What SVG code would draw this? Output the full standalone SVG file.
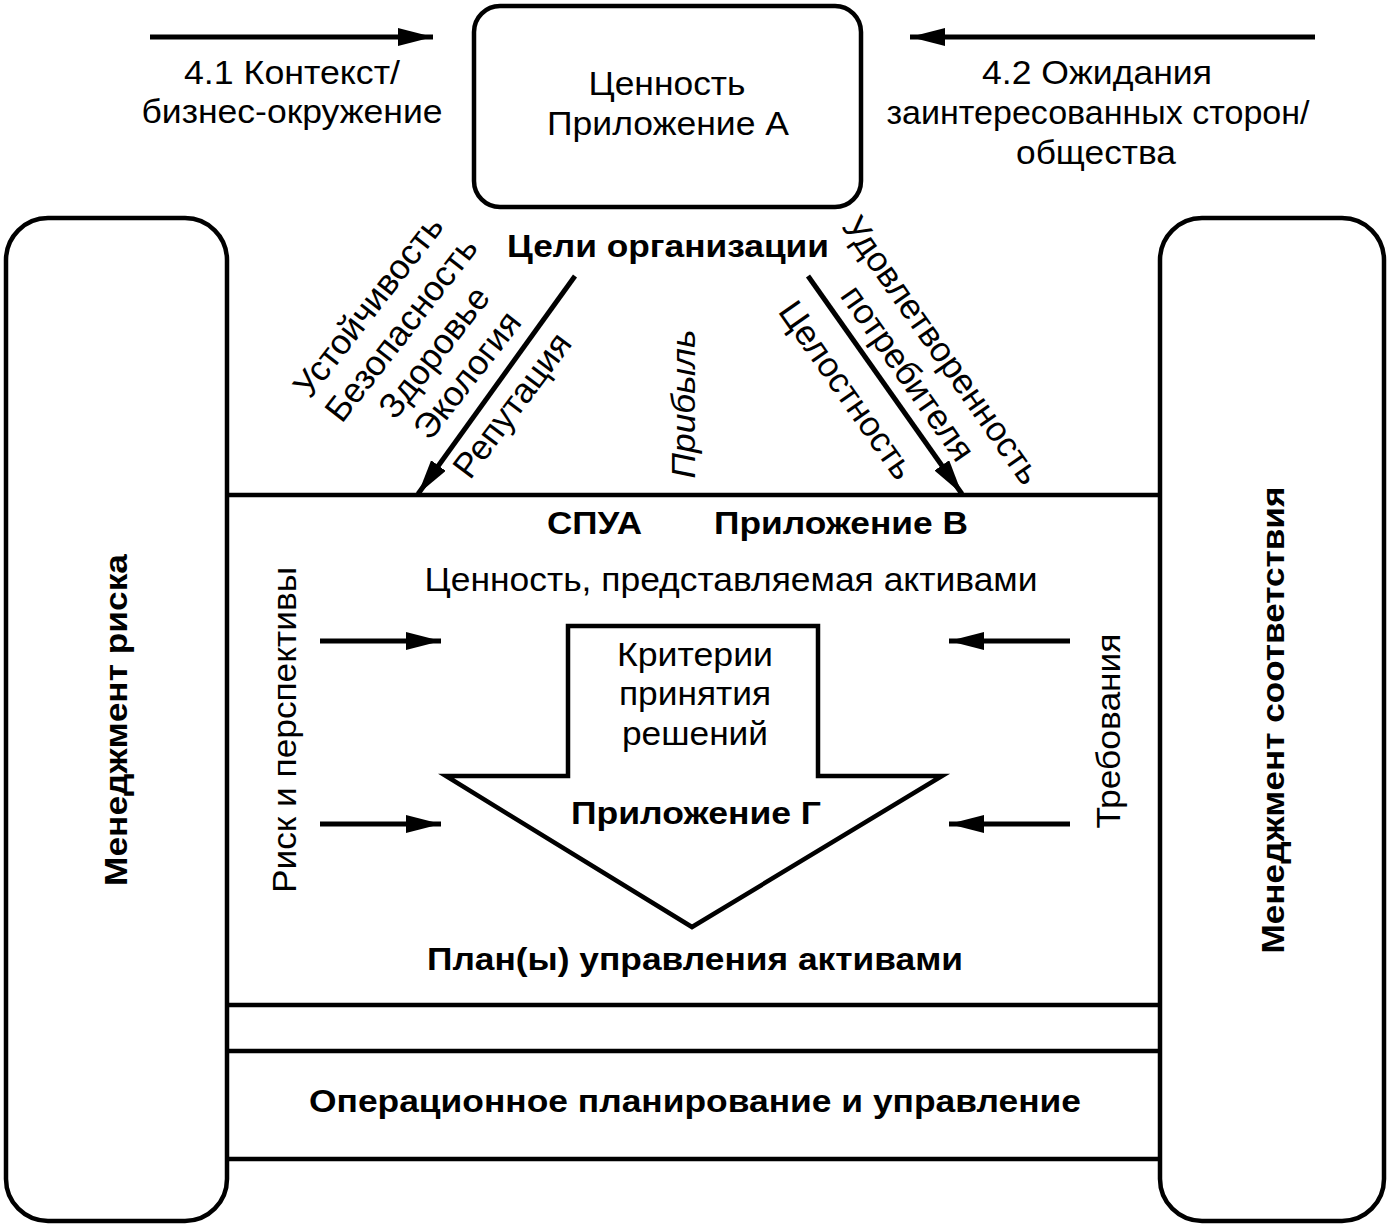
<svg xmlns="http://www.w3.org/2000/svg" width="1389" height="1229" viewBox="0 0 1389 1229">
<defs>
<marker id="ah" markerUnits="userSpaceOnUse" markerWidth="38" markerHeight="20" refX="35" refY="9" orient="auto">
<path d="M0,0 L35,9 L0,18 z" fill="#000"/>
</marker>
</defs>
<style>
.box{fill:none;stroke:#000;stroke-width:4.5}
.ln{stroke:#000;stroke-width:4.5;fill:none}
.arr{stroke:#000;stroke-width:5;fill:none;marker-end:url(#ah)}
text{font-family:"Liberation Sans",Arial,sans-serif;fill:#000}
.r{font-size:34px}
.d{font-size:35px}
.b{font-size:32px;font-weight:bold}
.m{text-anchor:middle}
</style>
<rect width="1389" height="1229" fill="#fff"/>

<g id="value-box">
<rect class="box" x="474" y="6" width="387" height="201" rx="26"/>
<text class="r m" x="667" y="95" textLength="157" lengthAdjust="spacingAndGlyphs">Ценность</text>
<text class="r m" x="668" y="135" textLength="242" lengthAdjust="spacingAndGlyphs">Приложение А</text>
</g>

<g id="context-label">
<text class="r m" x="292" y="84" textLength="216" lengthAdjust="spacingAndGlyphs">4.1 Контекст/</text>
<text class="r m" x="292" y="123" textLength="301" lengthAdjust="spacingAndGlyphs">бизнес-окружение</text>
</g>

<g id="expectations-label">
<text class="r m" x="1097" y="84" textLength="230" lengthAdjust="spacingAndGlyphs">4.2 Ожидания</text>
<text class="r m" x="1098" y="124" textLength="423" lengthAdjust="spacingAndGlyphs">заинтересованных сторон/</text>
<text class="r m" x="1096" y="164" textLength="160" lengthAdjust="spacingAndGlyphs">общества</text>
</g>

<g id="goals">
<text class="b m" x="668" y="257" textLength="322" lengthAdjust="spacingAndGlyphs">Цели организации</text>
<text class="d m" transform="translate(368,306) rotate(-52)" dy="12">Устойчивость</text>
<text class="d m" transform="translate(401,329) rotate(-52)" dy="12">Безопасность</text>
<text class="d m" transform="translate(434,352) rotate(-52)" dy="12">Здоровье</text>
<text class="d m" transform="translate(467,375) rotate(-52)" dy="12">Экология</text>
<text class="d m" transform="translate(512,405) rotate(-53)" dy="12">Репутация</text>
<text class="r m" transform="translate(683,404) rotate(-90)" dy="12" font-style="italic" textLength="149" lengthAdjust="spacingAndGlyphs">Прибыль</text>
<text class="d m" transform="translate(942,350) rotate(55)" dy="12">Удовлетворенность</text>
<text class="d m" transform="translate(908,373) rotate(55)" dy="12">потребителя</text>
<text class="d m" transform="translate(847,390) rotate(55)" dy="12">Целостность</text>
</g>

<g id="risk-management">
<rect class="box" x="6" y="218" width="221" height="1003" rx="42"/>
<text class="b m" transform="translate(127,720) rotate(-90)" textLength="332" lengthAdjust="spacingAndGlyphs">Менеджмент риска</text>
</g>

<g id="compliance-management">
<rect class="box" x="1160" y="218" width="224" height="1003" rx="42"/>
<text class="b m" transform="translate(1284,720) rotate(-90)" textLength="467" lengthAdjust="spacingAndGlyphs">Менеджмент соответствия</text>
</g>

<g id="samp-area">
<line class="ln" x1="227" y1="495" x2="1160" y2="495"/>
<line class="ln" x1="227" y1="1005" x2="1160" y2="1005"/>
<text class="b" x="547" y="534" textLength="95" lengthAdjust="spacingAndGlyphs">СПУА</text>
<text class="b" x="714" y="534" textLength="254" lengthAdjust="spacingAndGlyphs">Приложение В</text>
<text class="r m" x="731" y="591" textLength="613" lengthAdjust="spacingAndGlyphs">Ценность, представляемая активами</text>
<text class="r m" transform="translate(296,730) rotate(-90)" textLength="326" lengthAdjust="spacingAndGlyphs">Риск и перспективы</text>
<text class="r m" transform="translate(1120,731) rotate(-90)" textLength="195" lengthAdjust="spacingAndGlyphs">Требования</text>
<text class="b m" x="695" y="970" textLength="536" lengthAdjust="spacingAndGlyphs">План(ы) управления активами</text>
</g>

<g id="decision-arrow">
<polygon class="box" points="568,626 818,626 818,776 942,776 692,927 446,776 568,776"/>
<text class="r m" x="695" y="666" textLength="156" lengthAdjust="spacingAndGlyphs">Критерии</text>
<text class="r m" x="695" y="705" textLength="152" lengthAdjust="spacingAndGlyphs">принятия</text>
<text class="r m" x="695" y="745" textLength="146" lengthAdjust="spacingAndGlyphs">решений</text>
<text class="b m" x="696" y="824" textLength="250" lengthAdjust="spacingAndGlyphs">Приложение Г</text>
</g>

<g id="operational">
<line class="ln" x1="227" y1="1051" x2="1160" y2="1051"/>
<line class="ln" x1="227" y1="1159" x2="1160" y2="1159"/>
<text class="b m" x="695" y="1112" textLength="772" lengthAdjust="spacingAndGlyphs">Операционное планирование и управление</text>
</g>

<g id="connectors">
<line class="arr" x1="150" y1="37" x2="433" y2="37"/>
<line class="arr" x1="1315" y1="37" x2="910" y2="37"/>
<line class="arr" x1="575" y1="276" x2="418" y2="494"/>
<line class="arr" x1="808" y1="276" x2="962" y2="494"/>
<line class="arr" x1="320" y1="641" x2="441" y2="641"/>
<line class="arr" x1="320" y1="824" x2="441" y2="824"/>
<line class="arr" x1="1070" y1="641" x2="949" y2="641"/>
<line class="arr" x1="1070" y1="824" x2="949" y2="824"/>
</g>
</svg>
